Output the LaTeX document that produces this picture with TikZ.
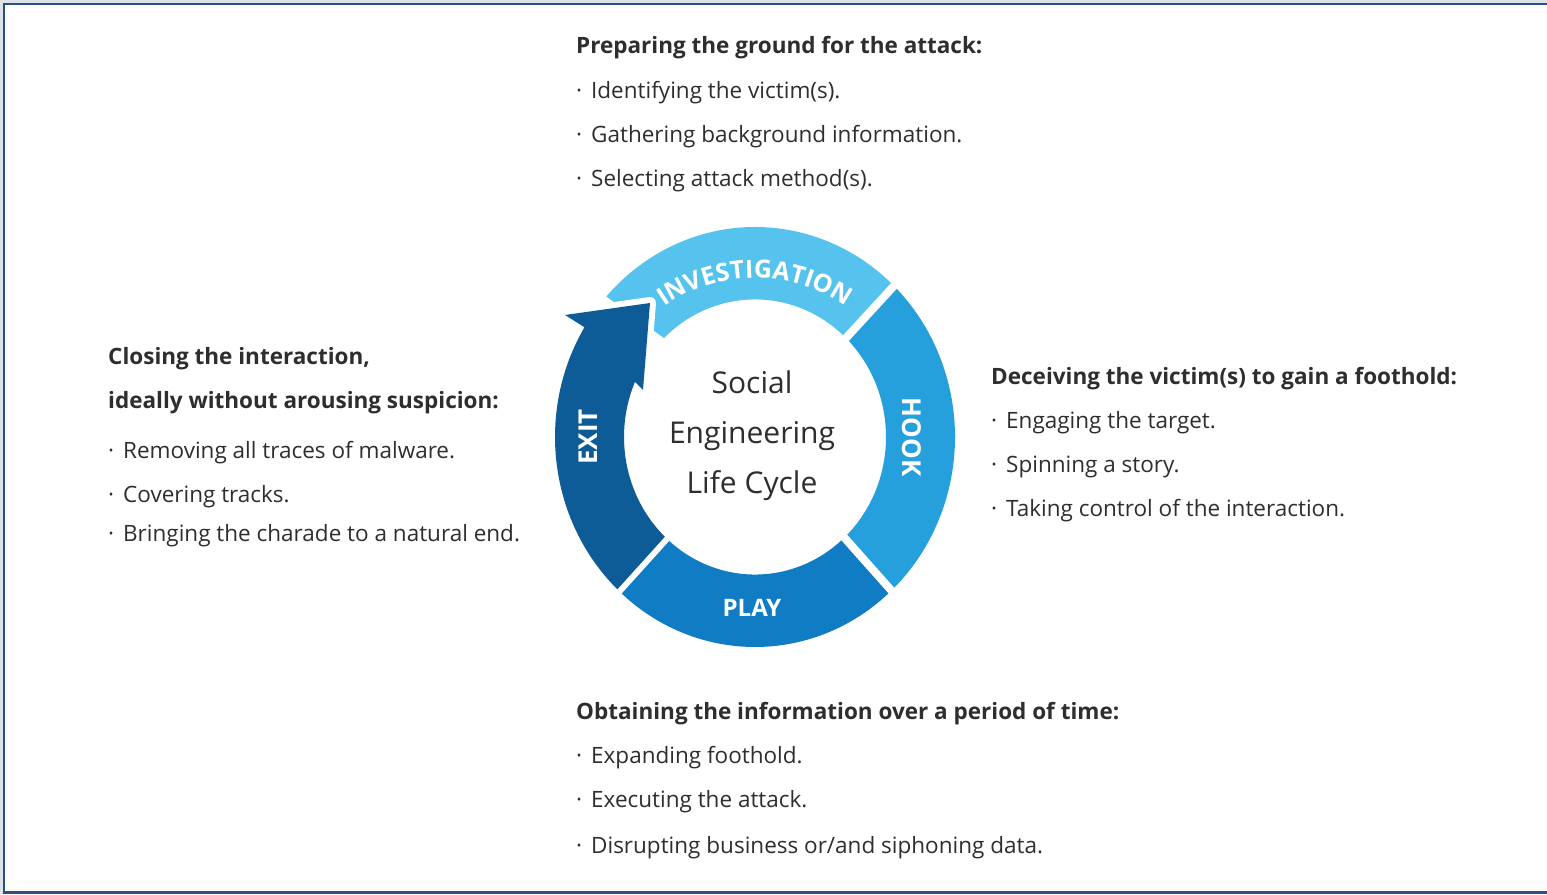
\documentclass[tikz,border=0pt]{standalone}
\usepackage{fontspec}
\setmainfont{Open Sans}
\usetikzlibrary{decorations.text}
\definecolor{frameblue}{HTML}{2B4F7E}
\definecolor{bgray}{HTML}{DCE2EA}
\definecolor{invblue}{HTML}{55C3EE}
\definecolor{hookblue}{HTML}{26A0DD}
\definecolor{playblue}{HTML}{0F7CC4}
\definecolor{exitblue}{HTML}{0D5C98}
\definecolor{txtgray}{HTML}{2E2E2E}
\tikzset{
  bodytxt/.style={anchor=base west, inner sep=0pt, text=txtgray, font=\fontsize{22.5}{26}\selectfont},
  headtxt/.style={bodytxt, font=\fontsize{22.5}{26}\selectfont\bfseries},
  ringlbl/.style={inner sep=0pt, text=white, font=\fontsize{24}{24}\selectfont\bfseries},
  gapline/.style={white, line width=8pt},
}
\newcommand{\bul}{\textperiodcentered\hspace{0.4em}}
\begin{document}
\begin{tikzpicture}[x=1pt,y=1pt]
\useasboundingbox (0,0) rectangle (1547,894);
\clip (0,0) rectangle (1547,894);
\fill[bgray] (0,0) rectangle (1547,894);
\draw[frameblue, line width=2.5pt, fill=white] (4,1.5) rectangle (1570,890);

% ring
\begin{scope}[shift={(755,457)}, yscale=1.05]
  \fill[invblue] (46:200) arc[start angle=46, end angle=138, radius=200] -- (134:131) arc[start angle=134, end angle=46, radius=131] -- cycle;
  \fill[hookblue] (-47:200) arc[start angle=-47, end angle=46, radius=200] -- (46:131) arc[start angle=46, end angle=-47, radius=131] -- cycle;
  \fill[playblue] (-135:200) arc[start angle=-135, end angle=-47, radius=200] -- (-47:131) arc[start angle=-47, end angle=-135, radius=131] -- cycle;
  \draw[gapline] (46:100) -- (46:240);
  \draw[gapline] (-47:100) -- (-47:240);
  \draw[gapline] (-135:100) -- (-135:240);
  \path[fill=exitblue, preaction={draw=white, line width=12pt, line join=round}]
    (226.5:131) -- (226.5:200) arc[start angle=226.5, end angle=148.5, radius=200]
    -- (-190,116.2) -- (-105,127.6) -- (-112,44.8) -- (-125,57.1)
    -- (155:131) arc[start angle=155, end angle=226.5, radius=131] -- cycle;
\end{scope}

% ring labels
\path[postaction={decorate}, decoration={text along path, text align=center, text color=white,
  text={|\fontsize{25}{25}\selectfont\bfseries|INVESTIGATION}}]
  (755,457) ++(124:159) arc[start angle=124, end angle=56, radius=159];
\node[ringlbl, rotate=-90, font=\fontsize{26}{26}\selectfont\bfseries] (hook) at (912,457) {HOOK};
\node[ringlbl, rotate=90, font=\fontsize{26}{26}\selectfont\bfseries] (exit) at (588,457) {EXIT};
\node[ringlbl] (play) at (752,286) {PLAY};

% center
\node[align=center, text=txtgray, font=\fontsize{30}{50}\selectfont, inner sep=0pt] (center) at (752,458)
  {Social\\Engineering\\Life Cycle};

% top block
\node[headtxt] (t0) at (576,840) {Preparing the ground for the attack:};
\node[bodytxt] (t1) at (576,795) {\bul Identifying the victim(s).};
\node[bodytxt] (t2) at (576,751) {\bul Gathering background information.};
\node[bodytxt] (t3) at (576,707) {\bul Selecting attack method(s).};

% right block
\node[headtxt] (r0) at (991,509) {Deceiving the victim(s) to gain a foothold:};
\node[bodytxt] (r1) at (991,465) {\bul Engaging the target.};
\node[bodytxt] (r2) at (991,421) {\bul Spinning a story.};
\node[bodytxt] (r3) at (991,377) {\bul Taking control of the interaction.};

% left block
\node[headtxt] (l0) at (108,529) {Closing the interaction,};
\node[headtxt] (l1) at (108,485) {ideally without arousing suspicion:};
\node[bodytxt] (l2) at (108,435) {\bul Removing all traces of malware.};
\node[bodytxt] (l3) at (108,391) {\bul Covering tracks.};
\node[bodytxt] (l4) at (108,352) {\bul Bringing the charade to a natural end.};

% bottom block
\node[headtxt] (b0) at (576,174) {Obtaining the information over a period of time:};
\node[bodytxt] (b1) at (576,130) {\bul Expanding foothold.};
\node[bodytxt] (b2) at (576,86) {\bul Executing the attack.};
\node[bodytxt] (b3) at (576,41) {\bul Disrupting business or/and siphoning data.};
\end{tikzpicture}
\end{document}
